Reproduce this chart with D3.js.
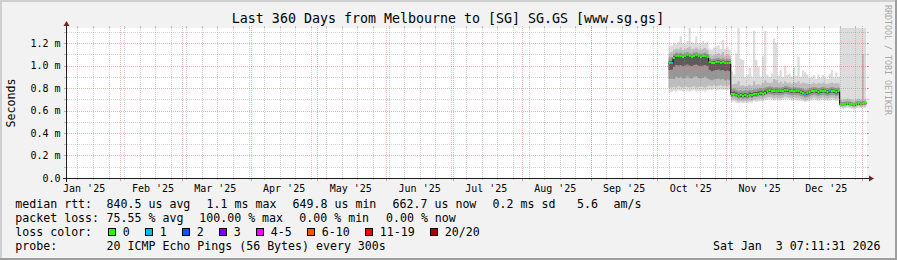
<!DOCTYPE html>
<html><head><meta charset="utf-8">
<script src="https://cdn.jsdelivr.net/npm/d3@7"></script>
<style>
html,body{margin:0;padding:0;background:#f2f2f2;}
svg{display:block;}
text{font-family:"DejaVu Sans Mono",monospace;white-space:pre;}
</style></head><body><svg id="c" width="897" height="260"></svg>
<script>
// ---------------- data ----------------
const titleText = "Last 360 Days from Melbourne to [SG] SG.GS [www.sg.gs]";
const endTime = new Date(2026, 0, 3, 7, 11, 31);
const spanDays = 360;
const yTickValues = [0, 0.2, 0.4, 0.6, 0.8, 1.0, 1.2];          // ms
const yTickLabels = ["0.0", "0.2 m", "0.4 m", "0.6 m", "0.8 m", "1.0 m", "1.2 m"];
const monthLabels = ["Jan '25","Feb '25","Mar '25","Apr '25","May '25","Jun '25","Jul '25","Aug '25","Sep '25","Oct '25","Nov '25","Dec '25"];
const dataStart = new Date(2025, 9, 6);   // first day with data, one value per day
// median RTT per day (ms)
const rttMedian = [1.02,1.025,
 1.07,1.085,1.08,1.085,1.075,1.08,1.09,1.08,1.075,1.085,1.09,1.08,1.075,1.08,1.085,1.075,
 1.03,1.02,1.025,1.03,1.035,1.025,1.03,1.02,1.025,1.02,
 0.745,0.75,0.74,0.73,0.735,0.73,0.735,0.73,0.74,0.735,0.745,0.745,0.75,0.755,0.75,0.76,
 0.775,0.78,0.775,0.77,0.775,0.77,0.77,0.775,0.785,0.78,0.775,0.77,0.775,0.77,0.77,0.765,0.76,0.75,0.755,0.765,0.77,0.775,0.77,0.765,0.77,0.775,0.77,0.765,0.77,0.775,0.77,0.765,0.77,
 0.66,0.655,0.66,0.665,0.66,0.655,0.65,0.66,0.665,0.66,0.665,0.663];
// lost pings per day (of 20)
const lossCount = [0,1,0,0,0,0,0,0,0,0,0,0,0,0,0,0,0,0,0,0,0,0,0,0,0,0,0,0,0,0,
 0,0,0,0,0,0,0,0,0,0,0,0,0,0,0,0,0,0,0,0,0,0,0,0,0,0,0,0,0,0,0,1,0,0,0,0,0,0,0,0,0,0,1,0,0,0,0,
 0,0,0,0,0,0,0,0,0,0,0,0];
// smoke: ping RTT distribution per day (ms)
const rttMin = [0.76,0.765,
 0.775,0.77,0.78,0.775,0.77,0.78,0.775,0.77,0.775,0.78,0.77,0.775,0.78,0.775,0.77,0.78,
 0.785,0.78,0.79,0.78,0.785,0.79,0.78,0.785,0.78,0.79,
 0.675,0.68,0.67,0.665,0.67,0.665,0.67,0.665,0.675,0.67,0.68,0.675,0.68,0.685,0.68,0.69,
 0.695,0.7,0.695,0.69,0.695,0.69,0.69,0.695,0.7,0.7,0.695,0.69,0.695,0.69,0.69,0.685,0.68,0.675,0.68,0.685,0.69,0.695,0.69,0.685,0.69,0.695,0.69,0.685,0.69,0.695,0.69,0.685,0.69,
 0.62,0.615,0.62,0.625,0.62,0.615,0.61,0.62,0.625,0.62,0.625,0.62];
const rttP10 = [0.8,0.805,
 0.81,0.805,0.815,0.81,0.805,0.815,0.81,0.805,0.81,0.815,0.805,0.81,0.815,0.81,0.805,0.815,
 0.82,0.815,0.825,0.815,0.82,0.825,0.815,0.82,0.815,0.825,
 0.695,0.7,0.69,0.68,0.685,0.68,0.685,0.68,0.69,0.685,0.695,0.695,0.7,0.705,0.7,0.71,
 0.715,0.72,0.715,0.71,0.715,0.71,0.71,0.715,0.725,0.72,0.715,0.71,0.715,0.71,0.71,0.705,0.7,0.69,0.695,0.705,0.71,0.715,0.71,0.705,0.71,0.715,0.71,0.705,0.71,0.715,0.71,0.705,0.71,
 0.632,0.627,0.632,0.637,0.632,0.627,0.622,0.632,0.637,0.632,0.637,0.635];
const rttP25 = [0.88,0.885,
 0.88,0.9,0.89,0.9,0.885,0.89,0.905,0.89,0.885,0.9,0.905,0.89,0.885,0.89,0.9,0.885,
 0.875,0.87,0.875,0.88,0.885,0.875,0.88,0.87,0.875,0.87,
 0.72,0.725,0.715,0.705,0.71,0.705,0.71,0.705,0.715,0.71,0.72,0.72,0.725,0.73,0.725,0.735,
 0.74,0.745,0.74,0.735,0.74,0.735,0.735,0.74,0.75,0.745,0.74,0.735,0.74,0.735,0.735,0.73,0.725,0.715,0.72,0.73,0.735,0.74,0.735,0.73,0.735,0.74,0.735,0.73,0.735,0.74,0.735,0.73,0.735,
 0.645,0.64,0.645,0.65,0.645,0.64,0.635,0.645,0.65,0.645,0.65,0.648];
const rttP40 = [0.96,0.965,
 0.99,1.005,1.0,1.005,0.995,1.0,1.01,1.0,0.995,1.005,1.01,1.0,0.995,1.0,1.005,0.995,
 0.96,0.95,0.955,0.96,0.965,0.955,0.96,0.95,0.955,0.95,
 0.733,0.738,0.728,0.718,0.723,0.718,0.723,0.718,0.728,0.723,0.733,0.733,0.738,0.743,0.738,0.748,
 0.76,0.765,0.76,0.755,0.76,0.755,0.755,0.76,0.77,0.765,0.76,0.755,0.76,0.755,0.755,0.75,0.745,0.735,0.74,0.75,0.755,0.76,0.755,0.75,0.755,0.76,0.755,0.75,0.755,0.76,0.755,0.75,0.755,
 0.653,0.648,0.653,0.658,0.653,0.648,0.643,0.653,0.658,0.653,0.658,0.656];
const rttP60 = [1.035,1.04,
 1.082,1.097,1.092,1.097,1.087,1.092,1.102,1.092,1.087,1.097,1.102,1.092,1.087,1.092,1.097,1.087,
 1.045,1.035,1.04,1.045,1.05,1.04,1.045,1.035,1.04,1.035,
 0.765,0.77,0.76,0.75,0.755,0.75,0.755,0.75,0.76,0.755,0.765,0.765,0.77,0.775,0.77,0.78,
 0.79,0.795,0.79,0.785,0.79,0.785,0.785,0.79,0.8,0.795,0.79,0.785,0.79,0.785,0.785,0.78,0.775,0.765,0.77,0.78,0.785,0.79,0.785,0.78,0.785,0.79,0.785,0.78,0.785,0.79,0.785,0.78,0.785,
 0.668,0.663,0.668,0.673,0.668,0.663,0.658,0.668,0.673,0.668,0.673,0.671];
const rttP75 = [1.07,1.075,
 1.1,1.115,1.11,1.115,1.105,1.11,1.12,1.11,1.105,1.115,1.12,1.11,1.105,1.11,1.115,1.105,
 1.065,1.055,1.06,1.065,1.07,1.06,1.065,1.055,1.06,1.055,
 0.79,0.795,0.785,0.775,0.78,0.775,0.78,0.775,0.785,0.78,0.79,0.79,0.795,0.8,0.795,0.805,
 0.81,0.815,0.81,0.805,0.81,0.805,0.805,0.81,0.82,0.815,0.81,0.805,0.81,0.805,0.805,0.8,0.795,0.785,0.79,0.8,0.805,0.81,0.805,0.8,0.805,0.81,0.805,0.8,0.805,0.81,0.805,0.8,0.805,
 0.68,0.675,0.68,0.685,0.68,0.675,0.67,0.68,0.685,0.68,0.685,0.683];
const rttP90 = [1.11,1.12,
 1.14,1.15,1.145,1.16,1.14,1.145,1.155,1.17,1.145,1.15,1.16,1.145,1.14,1.15,1.155,1.14,
 1.1,1.09,1.095,1.1,1.11,1.095,1.12,1.09,1.1,1.09,
 0.83,0.835,0.84,0.86,0.82,0.825,0.815,0.82,0.83,0.82,0.86,0.83,0.835,0.83,0.845,0.87,
 0.85,0.845,0.85,0.88,0.87,0.845,0.855,0.84,0.86,0.845,0.85,0.84,0.855,0.845,0.86,0.84,0.85,0.845,0.84,0.835,0.84,0.85,0.835,0.845,0.84,0.85,0.84,0.835,0.845,0.85,0.84,0.845,0.84,
 0.7,0.695,0.7,0.705,0.7,0.695,0.69,0.7,0.705,0.7,1.1,0.7];
const rttMax = [1.17,1.18,
 1.2,1.19,1.21,1.26,1.2,1.19,1.22,1.34,1.21,1.2,1.26,1.2,1.19,1.22,1.2,1.21,
 1.15,1.14,1.16,1.17,1.18,1.15,1.23,1.15,1.17,1.14,
 0.95,0.92,1.11,1.34,1.06,1.05,0.9,0.92,0.98,0.9,1.31,1.05,0.99,0.9,1.08,1.31,
 0.92,0.9,0.93,1.24,1.2,0.91,0.96,0.9,1.0,0.92,0.93,0.9,0.99,0.91,1.08,0.9,0.96,0.94,0.92,0.89,0.9,0.915,0.88,0.92,0.89,0.915,0.9,0.88,0.93,0.96,0.9,0.94,0.9,
 1.5,1.5,1.5,1.5,1.5,1.5,1.5,1.5,1.5,1.5,1.5,1.5];
const lossLabels = ["0","1","2","3","4-5","6-10","11-19","20/20"];
const lossColors = ["#26ff00","#00b8ff","#0059ff","#7e00ff","#ff00ff","#ff5500","#ff0000","#a00000"];
const lossUpper = [0,1,2,3,5,10,19,20];
const legendRtt = [["median rtt:",16],["840.5 us avg",107.3],["1.1 ms max",207.3],["649.8 us min",293.3],["662.7 us now",393.3],["0.2 ms sd",493.3],["5.6",577.7],["am/s",614.3]];
const legendLoss = [["packet loss:",16],["75.55 % avg",107.3],["100.00 % max",200],["0.00 % min",300],["0.00 % now",386.7]];
const probeText = "20 ICMP Echo Pings (56 Bytes) every 300s";
const dateText = "Sat Jan  3 07:11:31 2026";

// ---------------- layout ----------------
const W = 897, H = 260;
const X0 = 67, X1 = 867, Y0 = 178, Y1 = 28;
const startTime = d3.timeDay.offset(endTime, -spanDays);
const x = d3.scaleTime().domain([startTime, endTime]).range([X0, X1]);
const y = d3.scaleLinear().domain([0, 4/3]).range([Y0, Y1]);
const svg = d3.select("#c");

svg.append("rect").attr("width", W).attr("height", H).attr("fill", "#f2f2f2");
svg.append("rect").attr("x",0).attr("y",0).attr("width",W).attr("height",2).attr("fill","#cfcfcf");
svg.append("rect").attr("x",0).attr("y",0).attr("width",2).attr("height",H).attr("fill","#cfcfcf");
svg.append("rect").attr("x",0).attr("y",H-2).attr("width",W).attr("height",2).attr("fill","#9e9e9e");
svg.append("rect").attr("x",W-2).attr("y",0).attr("width",2).attr("height",H).attr("fill","#9e9e9e");

svg.append("rect").attr("x", X0).attr("y", Y1).attr("width", X1 - X0).attr("height", Y0 - Y1).attr("fill", "#fff");

svg.append("defs").append("clipPath").attr("id","plot").append("rect")
  .attr("x", X0).attr("y", Y1).attr("width", X1 - X0).attr("height", Y0 - Y1);

// rows
const rows = rttMedian.map((m, i) => ({
  t: d3.timeDay.offset(dataStart, i), t2: d3.timeDay.offset(dataStart, i + 1),
  med: m, loss: lossCount[i],
  mn: rttMin[i], p10: rttP10[i], p25: rttP25[i], p40: rttP40[i],
  p60: rttP60[i], p75: rttP75[i], p90: rttP90[i], mx: rttMax[i]
}));
const stepRows = rows.concat([Object.assign({}, rows[rows.length-1], {t: rows[rows.length-1].t2})]);

const plot = svg.append("g").attr("clip-path", "url(#plot)");
const bands = [["mn","mx","#dcdcdc"],["p10","p90","#bdbdbd"],["p25","p75","#979797"],["p40","p60","#5c5c5c"]];
bands.forEach(([lo, hi, col]) => {
  plot.append("path").datum(stepRows)
    .attr("fill", col)
    .attr("d", d3.area().curve(d3.curveStepAfter).x(d => x(d.t)).y0(d => y(d[lo])).y1(d => y(d[hi])));
});

// grid
const gridG = svg.append("g");
const minorY = d3.range(1, 14).map(i => i / 10).filter(v => Math.round(v * 10) % 2 === 1);
const crisp = v => Math.round(v) + 0.5;
const GRID = "#8f8f8f", MGRID = "rgb(222,79,79)";
minorY.forEach(v => {
  const yy = crisp(y(v));
  gridG.append("line").attr("x1", X0).attr("x2", X1).attr("y1", yy).attr("y2", yy)
    .attr("stroke", GRID).attr("stroke-opacity", 0.4).attr("stroke-dasharray", "1,1");
  gridG.append("line").attr("x1", X0 - 3).attr("x2", X0).attr("y1", yy).attr("y2", yy).attr("stroke", GRID).attr("stroke-opacity", 0.5);
  gridG.append("line").attr("x1", X1).attr("x2", X1 + 2).attr("y1", yy).attr("y2", yy).attr("stroke", GRID).attr("stroke-opacity", 0.5);
});
const weeks = d3.timeMonday.range(startTime, endTime);
weeks.forEach(t => {
  const xx = crisp(x(t));
  gridG.append("line").attr("x1", xx).attr("x2", xx).attr("y1", Y1).attr("y2", Y0)
    .attr("stroke", GRID).attr("stroke-opacity", 0.4).attr("stroke-dasharray", "1,1");
  gridG.append("line").attr("x1", xx).attr("x2", xx).attr("y1", Y1 - 2).attr("y2", Y1).attr("stroke", GRID).attr("stroke-opacity", 0.5);
  gridG.append("line").attr("x1", xx).attr("x2", xx).attr("y1", Y0).attr("y2", Y0 + 2).attr("stroke", GRID).attr("stroke-opacity", 0.5);
});
yTickValues.forEach(v => {
  if (v === 0) return;
  const yy = crisp(y(v));
  gridG.append("line").attr("x1", X0).attr("x2", X1 + 1).attr("y1", yy).attr("y2", yy)
    .attr("stroke", MGRID).attr("stroke-opacity", 0.45).attr("stroke-dasharray", "1,1");
  gridG.append("line").attr("x1", X0 - 3).attr("x2", X0).attr("y1", yy).attr("y2", yy).attr("stroke", MGRID).attr("stroke-opacity", 0.55);
  gridG.append("line").attr("x1", X1).attr("x2", X1 + 2).attr("y1", yy).attr("y2", yy).attr("stroke", MGRID).attr("stroke-opacity", 0.55);
});
const months = d3.timeMonth.range(startTime, endTime);
months.forEach(t => {
  const xx = crisp(x(t));
  gridG.append("line").attr("x1", xx).attr("x2", xx).attr("y1", Y1 - 2).attr("y2", Y0)
    .attr("stroke", MGRID).attr("stroke-opacity", 0.4).attr("stroke-dasharray", "1,1");
  gridG.append("line").attr("x1", xx).attr("x2", xx).attr("y1", Y0).attr("y2", Y0 + 3).attr("stroke", MGRID).attr("stroke-opacity", 0.55);
});

// median line (black step) + loss-coloured band
plot.append("path").datum(stepRows).attr("fill", "none").attr("stroke", "#000").attr("stroke-width", 1)
  .attr("d", d3.line().curve(d3.curveStepAfter).x(d => x(d.t)).y(d => crisp(y(d.med))));
const lossIndex = n => lossUpper.findIndex(u => n <= u);
plot.selectAll("rect.med").data(rows).join("rect").attr("class", "med")
  .attr("x", d => x(d.t)).attr("width", d => x(d.t2) - x(d.t))
  .attr("y", d => Math.round(y(d.med)) - 1).attr("height", 2)
  .attr("fill", d => lossColors[lossIndex(d.loss)]);

// axes
svg.append("line").attr("x1", X0 - 4).attr("x2", X1 + 4).attr("y1", Y0 + 0.5).attr("y2", Y0 + 0.5).attr("stroke", "#1f1f1f");
svg.append("line").attr("x1", X0 - 0.5).attr("x2", X0 - 0.5).attr("y1", Y0 + 4).attr("y2", Y1 - 4).attr("stroke", "#1f1f1f");
svg.append("path").attr("fill", "#801f1f").attr("d", `M${X1+2},${Y0+0.5-3}L${X1+2},${Y0+0.5+3}L${X1+7},${Y0+0.5}Z`);
svg.append("path").attr("fill", "#801f1f").attr("d", `M${X0-0.5-3},${Y1-2}L${X0-0.5+3},${Y1-2}L${X0-0.5},${Y1-7}Z`);

// y labels
yTickValues.forEach((v, i) => {
  svg.append("text").attr("x", 60.5).attr("y", y(v) + 3.6).attr("text-anchor", "end")
    .attr("font-size", "10px").text(yTickLabels[i]);
});
// x labels
monthLabels.forEach((lab, i) => {
  const t = d3.timeDay.offset(new Date(2025, i, 1), 15);
  svg.append("text").attr("x", x(t)).attr("y", 191.5).attr("text-anchor", "middle")
    .attr("font-size", "10px").text(lab);
});

// title, axis title, watermark
svg.append("text").attr("x", 448).attr("y", 23).attr("text-anchor", "middle").attr("font-size", "13.3px").text(titleText);
svg.append("text").attr("transform", "translate(15,103) rotate(-90)").attr("text-anchor", "middle").attr("font-size", "11.6px").text("Seconds");
svg.append("text").attr("transform", "translate(884.5,5) rotate(90)").attr("font-size", "8.3px").attr("fill", "#a8a8a8").text("RRDTOOL / TOBI OETIKER");

// legend
const FS = "11.6px";
const addText = (s, xx, yy) => svg.append("text").attr("x", xx - 0.7).attr("y", yy).attr("font-size", FS).text(s);
legendRtt.forEach(([s, xx]) => addText(s, xx, 208.3));
legendLoss.forEach(([s, xx]) => addText(s, xx, 222.3));
addText("loss color:", 16, 236.3);
let bx = 108;
lossLabels.forEach((lab, i) => {
  svg.append("rect").attr("x", bx + 0.5).attr("y", 228.5).attr("width", 7).attr("height", 7)
    .attr("fill", lossColors[i]).attr("stroke", "#000").attr("stroke-width", 1);
  addText(lab, bx + 15.5, 236.3);
  bx += 30 + 7 * lab.length;
});
addText("probe:", 16, 250);
addText(probeText, 107.3, 250);
svg.append("text").attr("x", 880.5).attr("y", 250).attr("text-anchor", "end").attr("font-size", FS).text(dateText);
</script></body></html>
